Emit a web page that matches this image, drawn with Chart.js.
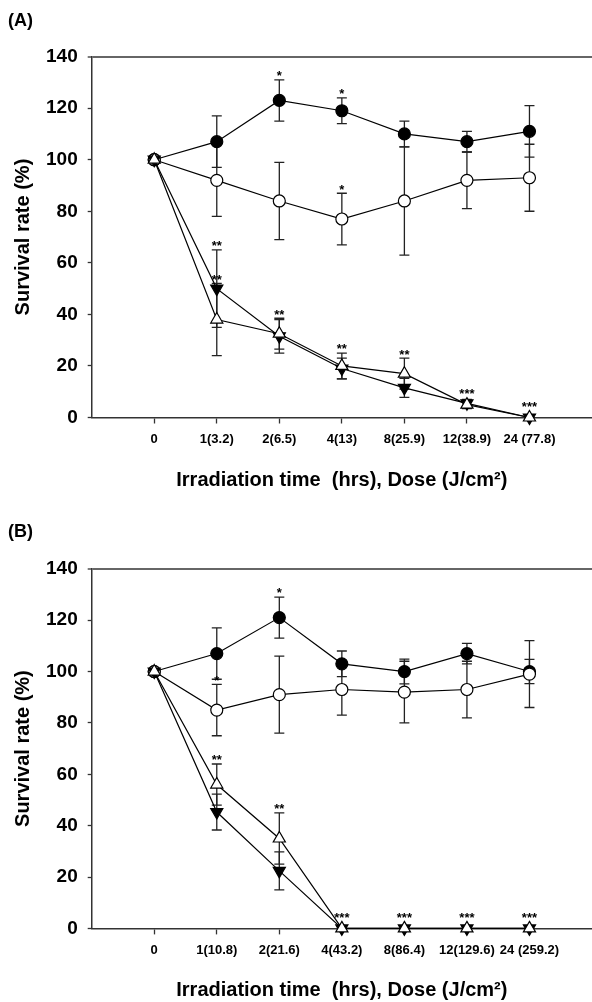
<!DOCTYPE html>
<html>
<head>
<meta charset="utf-8">
<script src="https://cdn.jsdelivr.net/npm/chart.js@4/dist/chart.umd.min.js"></script>
<style>
html, body { margin: 0; padding: 0; background: #fff; overflow: hidden; }
canvas { display: block; }
</style>
</head>
<body>
<canvas id="chartA" width="592" height="500"></canvas>
<canvas id="chartB" width="592" height="502"></canvas>
<script>
// x categories: irradiation time (hrs) and dose (J/cm2)
const doseLabelsA = ['0', '1(3.2)', '2(6.5)', '4(13)', '8(25.9)', '12(38.9)', '24 (77.8)'];
const doseLabelsB = ['0', '1(10.8)', '2(21.6)', '4(43.2)', '8(86.4)', '12(129.6)', '24 (259.2)'];
const yTicks = [0, 20, 40, 60, 80, 100, 120, 140];

// panel A  (mean survival %, +/- error, significance marks)
const filledCircleA = [100, 107, 123, 119, 110, 107, 111];
const filledCircleErrA = [0, 10, 8, 5, 5, 4, 10];
const filledCircleStarsA = ['', '', '*', '*', '', '', ''];
const openCircleA = [100, 92, 84, 77, 84, 92, 93];
const openCircleErrA = [0, 14, 15, 10, 21, 11, 13];
const openCircleStarsA = ['', '', '', '*', '', '', ''];
const downTriA = [100, 50, 31.5, 19, 11.5, 5.5, 0];
const downTriErrA = [0, 15, 6.5, 4, 3.7, 1.5, 0];
const downTriStarsA = ['', '**', '', '', '', '', ''];
const upTriA = [100, 38, 32.5, 20, 17, 5, 0];
const upTriErrA = [0, 14, 6, 5, 6, 1.5, 0];
const upTriStarsA = ['', '**', '**', '**', '**', '***', '***'];

// panel B
const filledCircleB = [100, 107, 121, 103, 100, 107, 100];
const filledCircleErrB = [0, 10, 8, 5, 4.8, 4, 4.7];
const filledCircleStarsB = ['', '', '*', '', '', '', ''];
const openCircleB = [100, 85, 91, 93, 92, 93, 99];
const openCircleErrB = [0, 10, 15, 10, 12, 11, 13];
const openCircleStarsB = ['', '*', '', '', '', '', ''];
const downTriB = [100, 45.3, 22.4, 0, 0, 0, 0];
const downTriErrB = [0, 7, 7.4, 0, 0, 0, 0];
const downTriStarsB = ['', '', '', '', '', '', ''];
const upTriB = [100, 56, 35, 0, 0, 0, 0];
const upTriErrB = [0, 8, 10, 0, 0, 0, 0];
const upTriStarsB = ['', '**', '**', '***', '***', '***', '***'];

Chart.defaults.font.family = "'Liberation Sans', Arial, sans-serif";
Chart.defaults.color = '#000';

// error bars under the markers, asterisks above them
const errorBars = {
  id: 'errorBars',
  beforeDatasetsDraw(chart) {
    const ctx = chart.ctx, xs = chart.scales.x, ys = chart.scales.y;
    ctx.save();
    ctx.strokeStyle = '#222';
    ctx.lineWidth = 1.3;
    chart.data.datasets.forEach(function (ds) {
      ds.data.forEach(function (p, i) {
        const e = ds.errors[i];
        if (!e) return;
        const px = xs.getPixelForValue(p.x);
        const top = ys.getPixelForValue(p.y + e);
        const bot = ys.getPixelForValue(p.y - e);
        ctx.beginPath();
        ctx.moveTo(px, top); ctx.lineTo(px, bot);
        ctx.moveTo(px - 5, top); ctx.lineTo(px + 5, top);
        ctx.moveTo(px - 5, bot); ctx.lineTo(px + 5, bot);
        ctx.stroke();
      });
    });
    ctx.restore();
  },
  afterDatasetsDraw(chart) {
    const ctx = chart.ctx, xs = chart.scales.x, ys = chart.scales.y;
    const size = 13;
    ctx.save();
    ctx.fillStyle = '#000';
    ctx.textAlign = 'center';
    ctx.textBaseline = 'alphabetic';
    ctx.font = 'bold ' + size + "px 'Liberation Sans', Arial, sans-serif";
    chart.data.datasets.forEach(function (ds) {
      ds.data.forEach(function (p, i) {
        const s = ds.stars[i];
        if (!s) return;
        const px = xs.getPixelForValue(p.x);
        const cap = ys.getPixelForValue(p.y + ds.errors[i]);
        const top = Math.min(cap, ys.getPixelForValue(p.y) - ds.pointRadius);
        ctx.fillText(s, px, top - 7 + size * 0.57);
      });
    });
    ctx.restore();
  }
};

function toPoints(values) {
  return values.map(function (v, i) { return { x: i, y: v }; });
}

function makeChart(id, panel, labels, series, lay) {
  const datasets = [
    { data: toPoints(series.upTri), errors: series.upTriErr, stars: series.upTriStars,
      pointStyle: 'triangle', pointRadius: 7, backgroundColor: '#fff' },
    { data: toPoints(series.downTri), errors: series.downTriErr, stars: series.downTriStars,
      pointStyle: 'triangle', pointRotation: 180, pointRadius: 7, backgroundColor: '#000' },
    { data: toPoints(series.openCircle), errors: series.openCircleErr, stars: series.openCircleStars,
      pointStyle: 'circle', pointRadius: 6, backgroundColor: '#fff' },
    { data: toPoints(series.filledCircle), errors: series.filledCircleErr, stars: series.filledCircleStars,
      pointStyle: 'circle', pointRadius: 6, backgroundColor: '#000' }
  ];
  datasets.forEach(function (d) {
    d.borderColor = '#000';
    d.borderWidth = 1.2;
    d.pointBorderColor = '#000';
    d.pointBorderWidth = 1.2;
    d.pointBackgroundColor = d.backgroundColor;
    d.clip = false;
  });

  return new Chart(document.getElementById(id), {
    type: 'line',
    data: { datasets: datasets },
    plugins: [errorBars],
    options: {
      responsive: false,
      animation: false,
      devicePixelRatio: 1,
      layout: { autoPadding: false, padding: { left: 8, right: 0, top: 0, bottom: 0 } },
      plugins: {
        legend: { display: false },
        tooltip: { enabled: false },
        title: {
          display: true,
          text: panel,
          align: 'start',
          color: '#000',
          font: { size: 18, weight: 'bold' },
          padding: { top: lay.titleTop, bottom: lay.titleBottom }
        }
      },
      scales: {
        x: {
          type: 'linear',
          min: -1,
          max: 7,
          afterBuildTicks: function (scale) {
            scale.ticks = labels.map(function (l, i) { return { value: i }; });
          },
          afterFit: function (scale) {
            scale.height = lay.xHeight;
            scale.paddingLeft = 0;
            scale.paddingRight = 0;
          },
          ticks: {
            autoSkip: false,
            maxRotation: 0,
            padding: 8,
            font: { size: 13, weight: 'bold' },
            callback: function (v) { return labels[v]; }
          },
          grid: { color: 'transparent', tickColor: '#333', tickLength: 6, tickWidth: 1.3 },
          border: { display: true, color: '#333', width: 1.5 },
          title: {
            display: true,
            text: 'Irradiation time  (hrs), Dose (J/cm²)',
            font: { size: 20, weight: 'bold' },
            padding: { top: 0, bottom: lay.xTitleBottom }
          }
        },
        y: {
          min: 0,
          max: 140,
          afterBuildTicks: function (scale) {
            scale.ticks = yTicks.map(function (v) { return { value: v }; });
          },
          afterFit: function (scale) {
            scale.width = 83.7;
            scale.paddingTop = 0;
            scale.paddingBottom = 0;
          },
          ticks: { padding: 10, font: { size: 19, weight: 'bold' } },
          grid: {
            color: function (c) { return c.tick && c.tick.value === 140 ? '#666' : 'transparent'; },
            lineWidth: function (c) { return c.tick && c.tick.value === 140 ? 2 : 1; },
            tickColor: '#333',
            tickLength: 4,
            tickWidth: 1.3
          },
          border: { display: true, color: '#333', width: 1.5 },
          title: {
            display: true,
            text: 'Survival rate (%)',
            font: { size: 20, weight: 'bold' },
            padding: { top: 3, bottom: 0 }
          }
        }
      }
    }
  });
}

makeChart('chartA', '(A)', doseLabelsA, {
  filledCircle: filledCircleA, filledCircleErr: filledCircleErrA, filledCircleStars: filledCircleStarsA,
  openCircle: openCircleA, openCircleErr: openCircleErrA, openCircleStars: openCircleStarsA,
  downTri: downTriA, downTriErr: downTriErrA, downTriStars: downTriStarsA,
  upTri: upTriA, upTriErr: upTriErrA, upTriStars: upTriStarsA
}, { titleTop: 10, titleBottom: 25, xHeight: 82.5, xTitleBottom: 8 });

makeChart('chartB', '(B)', doseLabelsB, {
  filledCircle: filledCircleB, filledCircleErr: filledCircleErrB, filledCircleStars: filledCircleStarsB,
  openCircle: openCircleB, openCircleErr: openCircleErrB, openCircleStars: openCircleStarsB,
  downTri: downTriB, downTriErr: downTriErrB, downTriStars: downTriStarsB,
  upTri: upTriB, upTriErr: upTriErrB, upTriStars: upTriStarsB
}, { titleTop: 21.2, titleBottom: 26, xHeight: 73.6, xTitleBottom: 0 });
</script>
</body>
</html>
